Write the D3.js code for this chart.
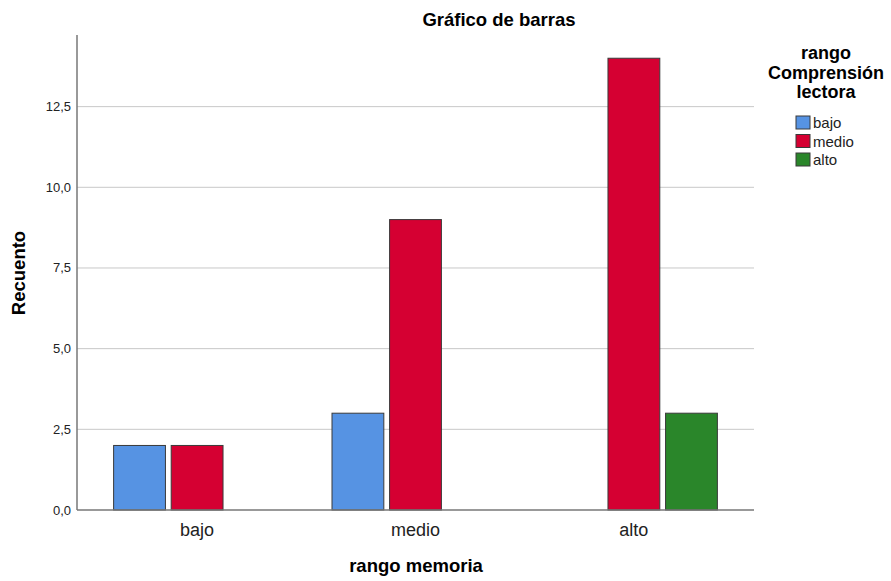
<!DOCTYPE html>
<html>
<head>
<meta charset="utf-8">
<script src="https://cdn.jsdelivr.net/npm/d3@7"></script>
<style>
  body { margin: 0; background: #fff; }
  text { font-family: "Liberation Sans", Arial, sans-serif; fill: #000; }
</style>
</head>
<body>
<script>
var categories = ["bajo", "medio", "alto"];
var groups = ["bajo", "medio", "alto"];
var counts = {
  bajo:  [2, 3, 0],
  medio: [2, 9, 14],
  alto:  [0, 0, 3]
};
var groupColors = ["#5693e3", "#d50032", "#2a862a"];
var yTicks = [0, 2.5, 5, 7.5, 10, 12.5];

var width = 891, height = 581;
var plotLeft = 77, plotRight = 754, plotTop = 35, plotBottom = 510;

var svg = d3.select("body").append("svg").attr("width", width).attr("height", height);

var y = d3.scaleLinear().domain([0, 14.72]).range([plotBottom, plotTop]);
var x = d3.scalePoint().domain(categories).range([plotLeft, plotRight]).padding(0.55);
var xSub = d3.scaleBand().domain(groups).range([-83.5, 83.5]).paddingInner(0.1);

// gridlines
svg.append("g").selectAll("line").data(yTicks.filter(function(d){ return d > 0; }))
  .enter().append("line")
  .attr("x1", plotLeft).attr("x2", plotRight)
  .attr("y1", function(d){ return y(d); }).attr("y2", function(d){ return y(d); })
  .attr("stroke", "#c8c8c8").attr("stroke-width", 1);

// bars
var data = [];
categories.forEach(function(c, i){
  groups.forEach(function(g, j){
    if (counts[g][i] > 0) data.push({cat: c, grp: g, j: j, v: counts[g][i]});
  });
});

svg.append("g").selectAll("rect").data(data).enter().append("rect")
  .attr("x", function(d){ return x(d.cat) + xSub(d.grp); })
  .attr("width", xSub.bandwidth())
  .attr("y", function(d){ return y(d.v); })
  .attr("height", function(d){ return y(0) - y(d.v); })
  .attr("fill", function(d){ return groupColors[d.j]; })
  .attr("stroke", "#3a3a3a").attr("stroke-width", 1);

// axes lines
svg.append("line").attr("x1", plotLeft).attr("x2", plotLeft).attr("y1", plotTop).attr("y2", plotBottom)
  .attr("stroke", "#777").attr("stroke-width", 1.5);
svg.append("line").attr("x1", plotLeft).attr("x2", plotRight).attr("y1", plotBottom).attr("y2", plotBottom)
  .attr("stroke", "#777").attr("stroke-width", 1.5);

// y tick labels
svg.append("g").selectAll("text").data(yTicks).enter().append("text")
  .attr("x", plotLeft - 6).attr("y", function(d){ return y(d) + 4.5; })
  .attr("text-anchor", "end").attr("font-size", 13).style("fill", "#222")
  .text(function(d){ return d3.format(".1f")(d).replace(".", ","); });

// x tick labels
svg.append("g").selectAll("text").data(categories).enter().append("text")
  .attr("x", function(d){ return x(d); }).attr("y", 536)
  .attr("text-anchor", "middle").attr("font-size", 18).style("fill", "#222")
  .text(function(d){ return d; });

// titles
svg.append("text").attr("x", 499).attr("y", 26).attr("text-anchor", "middle")
  .attr("font-size", 18.5).attr("font-weight", "bold").text("Gráfico de barras");
svg.append("text").attr("x", 416).attr("y", 572).attr("text-anchor", "middle")
  .attr("font-size", 18.5).attr("font-weight", "bold").text("rango memoria");
svg.append("text").attr("transform", "translate(25,273) rotate(-90)").attr("text-anchor", "middle")
  .attr("font-size", 18.5).attr("font-weight", "bold").text("Recuento");

// legend
var legTitle = ["rango", "Comprensión", "lectora"];
svg.append("g").selectAll("text").data(legTitle).enter().append("text")
  .attr("x", 826).attr("y", function(d, i){ return 59 + i * 19.5; })
  .attr("text-anchor", "middle").attr("font-size", 18).attr("font-weight", "bold")
  .text(function(d){ return d; });

var leg = svg.append("g").selectAll("g").data(groups).enter().append("g")
  .attr("transform", function(d, i){ return "translate(796," + (116 + i * 18.5) + ")"; });
leg.append("rect").attr("width", 14).attr("height", 13)
  .attr("fill", function(d, i){ return groupColors[i]; })
  .attr("stroke", "#3a3a3a").attr("stroke-width", 1);
leg.append("text").attr("x", 17).attr("y", 12).attr("font-size", 15).style("fill", "#222")
  .text(function(d){ return d; });
</script>
</body>
</html>
